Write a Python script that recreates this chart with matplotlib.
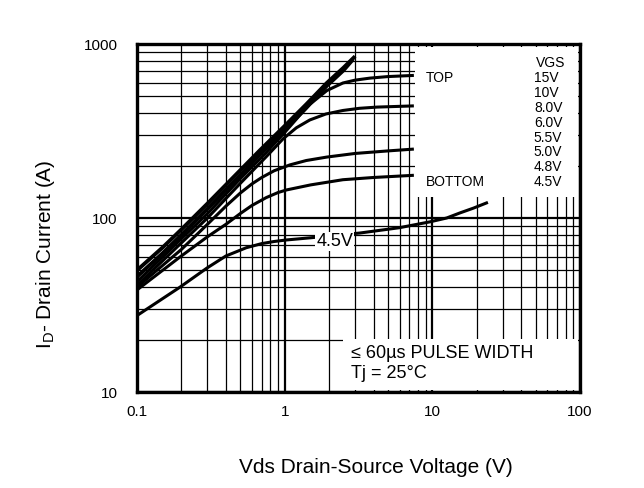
import matplotlib

matplotlib.use("Agg")
import matplotlib.pyplot as plt
from matplotlib.patches import Rectangle

plt.rcParams["font.family"] = ["Liberation Sans", "DejaVu Sans"]

# Output characteristics (Vds in V, Id in A)
vds_a = [0.1, 0.15, 0.2, 0.3, 0.5, 0.68, 1.0, 1.4, 1.93, 2.5, 3.0]
id_a = [50, 68, 86, 121, 188, 245, 338, 450, 597, 730, 850]
vds_b = [0.1, 0.15, 0.2, 0.3, 0.5, 0.68, 1.0, 1.4, 1.93, 2.5, 2.9]
id_b = [46, 63, 80, 113, 176, 232, 322, 430, 575, 705, 815]
vds_8v = [0.1, 0.2, 0.3, 0.5, 0.75, 1.0, 1.25, 1.48, 1.93, 2.48, 3.0, 3.79, 5.0, 7.5]
id_8v = [43, 76, 106, 168, 238, 310, 385, 450, 540, 597, 620, 637, 650, 660]
vds_6v = [0.1, 0.2, 0.3, 0.5, 0.75, 0.975, 1.2, 1.48, 1.9, 2.48, 3.2, 4.22, 7.5]
id_6v = [41, 72, 100, 158, 225, 285, 330, 366, 396, 415, 427, 434, 441]
vds_55v = [0.1, 0.2, 0.3, 0.4, 0.5, 0.6, 0.7, 0.85, 1.086, 1.4, 1.93, 3.0, 5.0, 7.5]
id_55v = [40, 66, 92, 117, 139, 157, 171, 187, 202, 214, 224, 235, 243, 249]
vds_50v = [0.1, 0.195, 0.298, 0.4, 0.5, 0.6, 0.75, 0.9, 1.03, 1.5, 2.48, 4.0, 7.5]
id_50v = [38.6, 59.6, 77.7, 92, 106, 118, 131, 140, 145, 155, 166, 171, 176]
vds_45v = [0.1, 0.195, 0.298, 0.4, 0.55, 0.7, 0.85, 1.03, 1.5, 3.24, 6.0, 9.6,
           12.5, 15.4, 19, 23.8]
id_45v = [27.5, 40, 51.6, 60.5, 67.5, 71.3, 73.3, 74.8, 77, 82, 88, 95,
          100, 107, 114, 123]

vgs_labels = ["15V", "10V", "8.0V", "6.0V", "5.5V", "5.0V", "4.8V", "4.5V"]

fig = plt.figure(figsize=(6.44, 4.88), dpi=100)
ax = fig.add_axes([0.2127, 0.1967, 0.6879, 0.7131])
ax.set_xscale("log")
ax.set_yscale("log")
ax.set_xlim(0.1, 100)
ax.set_ylim(10, 1000)

ax.grid(True, which="major", color="black", lw=1.6)
ax.grid(True, which="minor", color="black", lw=0.9)
ax.set_axisbelow(True)
for s in ax.spines.values():
    s.set_linewidth(2.4)
ax.tick_params(which="both", length=0)
ax.set_xticks([0.1, 1, 10, 100])
ax.set_xticklabels(["0.1", "1", "10", "100"], fontsize=11)
ax.set_yticks([10, 100, 1000])
ax.set_yticklabels(["10", "100", "1000"], fontsize=11)
ax.tick_params(axis="x", pad=9)
ax.tick_params(axis="y", pad=14)

for xs, ys, lw in [(vds_a, id_a, 2.8), (vds_b, id_b, 2.8), (vds_8v, id_8v, 2.2),
                   (vds_6v, id_6v, 2.2), (vds_55v, id_55v, 2.2),
                   (vds_50v, id_50v, 2.2), (vds_45v, id_45v, 2.2)]:
    ax.plot(xs, ys, color="black", lw=lw, solid_capstyle="butt",
            solid_joinstyle="round", zorder=3)

ax.text(2.19, 73.5, "4.5V", fontsize=13, ha="center", va="center", zorder=4,
        bbox=dict(facecolor="white", edgecolor="none", pad=0.8))

# legend panel
ax.add_patch(Rectangle((0.6276, 0.56), 0.367, 0.43, transform=ax.transAxes,
                       facecolor="white", edgecolor="none", zorder=4))
ax.text(0.9005, 0.945, "VGS", transform=ax.transAxes, fontsize=10, va="center", zorder=5)
ax.text(0.6524, 0.901, "TOP", transform=ax.transAxes, fontsize=10, va="center", zorder=5)
ax.text(0.6524, 0.603, "BOTTOM", transform=ax.transAxes, fontsize=10, va="center", zorder=5)
for i, lab in enumerate(vgs_labels):
    ax.text(0.8960, 0.901 - i * 0.0425, lab, transform=ax.transAxes, fontsize=10,
            va="center", zorder=5)

# pulse width note
ax.add_patch(Rectangle((0.465, 0.005), 0.53, 0.147, transform=ax.transAxes,
                       facecolor="white", edgecolor="none", zorder=4))
ax.text(0.482, 0.11, "\u2264 60\u00b5s PULSE WIDTH", transform=ax.transAxes,
        fontsize=13, va="center", zorder=5)
ax.text(0.482, 0.052, "Tj = 25\u00b0C", transform=ax.transAxes,
        fontsize=13, va="center", zorder=5)

fig.text(0.583, 0.043, "Vds Drain-Source Voltage (V)", fontsize=15, ha="center", va="center")
fig.text(0.07, 0.48, r"I$_\mathregular{D}$- Drain Current (A)", fontsize=15,
         rotation=90, ha="center", va="center")

fig.savefig("out.png", dpi=100)
